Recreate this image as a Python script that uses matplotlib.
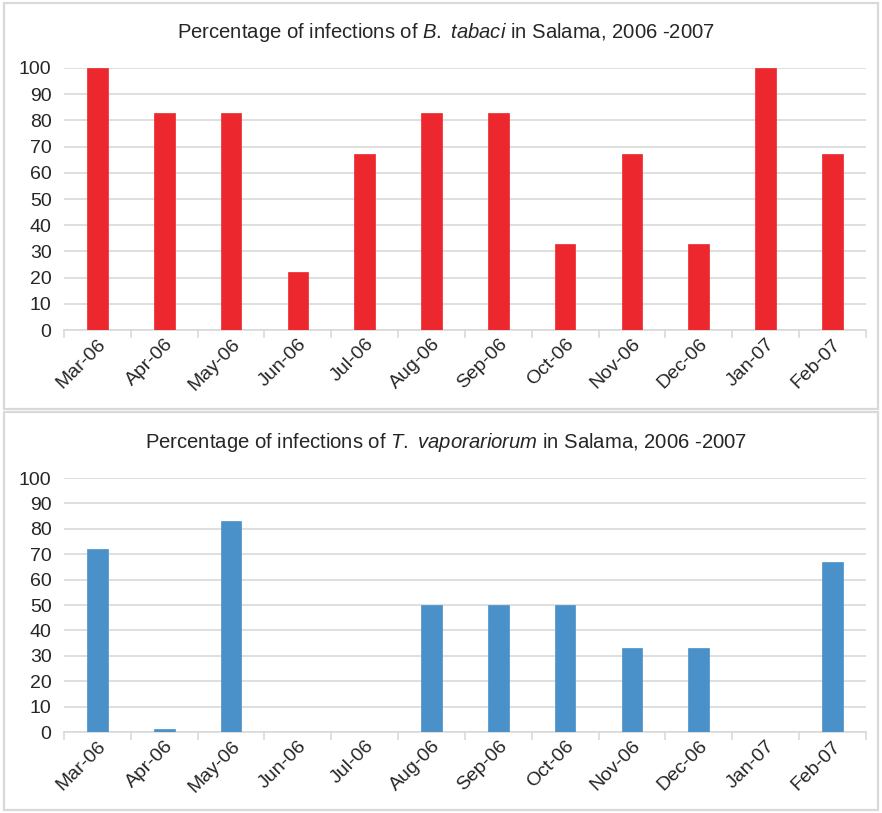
import matplotlib
matplotlib.use("Agg")
import matplotlib.pyplot as plt
from matplotlib.patches import Rectangle
import numpy as np

months = ["Mar-06", "Apr-06", "May-06", "Jun-06", "Jul-06", "Aug-06",
          "Sep-06", "Oct-06", "Nov-06", "Dec-06", "Jan-07", "Feb-07"]
tabaci = [100, 83, 83, 22, 67, 83, 83, 33, 67, 33, 100, 67]
vaporariorum = [72, 1, 83, 0, 0, 50, 50, 50, 33, 33, 0, 67]
yticks = list(range(0, 101, 10))

plt.rcParams["font.family"] = ["Liberation Sans", "DejaVu Sans"]
plt.rcParams["mathtext.fontset"] = "custom"
plt.rcParams["mathtext.rm"] = "Liberation Sans"
plt.rcParams["mathtext.it"] = "Liberation Sans:italic"

fig = plt.figure(figsize=(8.82, 8.13), dpi=100)

# panel frames
for (y0, h) in [(0.497, 0.499), (0.004, 0.489)]:
    fig.patches.append(Rectangle((0.004, y0), 0.992, h, transform=fig.transFigure,
                                 fill=False, edgecolor="#d9d9d9", linewidth=1.6))

grid_c = "#d9d9d9"
text_c = "#262626"
tick_fs = 14


def panel(rect, values, color, title, title_y):
    ax = fig.add_axes(rect)
    x = np.arange(len(months))
    ax.bar(x, values, width=0.31, color=color, edgecolor=color, linewidth=0.5, zorder=3)
    ax.set_xlim(-0.5, len(months) - 0.5)
    ax.set_ylim(0, 100)
    ax.set_yticks(yticks)
    ax.yaxis.grid(True, color=grid_c, linewidth=1.2, zorder=0)
    ax.set_axisbelow(True)
    for s in ["top", "right", "left"]:
        ax.spines[s].set_visible(False)
    ax.spines["bottom"].set_color(grid_c)
    ax.spines["bottom"].set_linewidth(1.2)
    ax.set_xticks(x)
    ax.set_xticks(np.arange(-0.5, len(months), 1.0), minor=True)
    ax.tick_params(axis="x", which="major", length=0, pad=4)
    ax.tick_params(axis="x", which="minor", length=6, color=grid_c, width=1.2)
    ax.tick_params(axis="y", length=0, pad=9, labelsize=tick_fs, labelcolor=text_c)
    ax.set_xticklabels(months, rotation=45, ha="right", va="top",
                       rotation_mode="anchor", fontsize=tick_fs, color=text_c)
    fig.text(0.506, title_y, title, fontsize=14.6, color=text_c,
             ha="center", va="center")
    return ax


panel([0.0726, 0.594, 0.909, 0.3224], tabaci, "#ec282e",
      r"Percentage of infections of $\mathit{B.}$ $\mathit{tabaci}$ in Salama, 2006 -2007",
      1 - 32 / 813)
panel([0.0726, 0.0996, 0.909, 0.3124], vaporariorum, "#4a91c9",
      r"Percentage of infections of $\mathit{T.}$ $\mathit{vaporariorum}$ in Salama, 2006 -2007",
      1 - 442 / 813)

fig.savefig("out.png", dpi=100)
